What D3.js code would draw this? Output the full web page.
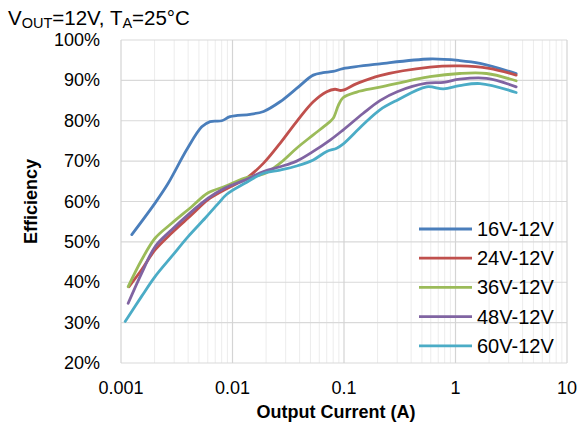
<!DOCTYPE html>
<html>
<head>
<meta charset="utf-8">
<script src="https://cdn.jsdelivr.net/npm/d3@7"></script>
<style>
  body { margin: 0; background: #fff; }
  svg { display: block; font-family: Arial, "Liberation Sans", sans-serif; }
</style>
</head>
<body>
<svg id="chart" width="582" height="428"></svg>
<script>
// data (x in A, y in %)
const seriesNames = [ '16V-12V', '24V-12V', '36V-12V', '48V-12V', '60V-12V' ];
const seriesColors = [ '#4a7ebb', '#c0504d', '#9bbb59', '#8064a2', '#4bacc6' ];

const eff16 = [
    [ 0.00125, 51.8 ], [ 0.00202, 59.6 ], [ 0.00265, 64.5 ], [ 0.00388, 72.8 ], [ 0.0053, 78.5 ],
    [ 0.0063, 79.8 ], [ 0.008, 80.0 ], [ 0.0095, 81.0 ], [ 0.0144, 81.6 ], [ 0.019, 82.3 ],
    [ 0.0267, 84.7 ], [ 0.0376, 88.0 ], [ 0.053, 91.3 ], [ 0.065, 91.9 ], [ 0.08, 92.2 ],
    [ 0.098, 92.9 ], [ 0.21, 94.1 ], [ 0.59, 95.3 ], [ 1.09, 94.9 ], [ 1.66, 94.2 ], [ 3.5, 91.7 ]
];
const eff24 = [
    [ 0.00118, 38.9 ], [ 0.00153, 43.1 ], [ 0.00202, 48.0 ], [ 0.00285, 52.2 ], [ 0.0043, 56.7 ],
    [ 0.006, 60.4 ], [ 0.0085, 62.9 ], [ 0.0134, 65.8 ], [ 0.019, 69.5 ], [ 0.0267, 74.4 ],
    [ 0.0376, 79.8 ], [ 0.053, 84.7 ], [ 0.07, 87.2 ], [ 0.083, 87.8 ], [ 0.095, 87.5 ],
    [ 0.13, 89.2 ], [ 0.21, 91.2 ], [ 0.59, 93.3 ], [ 1.09, 93.6 ], [ 2.0, 93.0 ], [ 3.5, 91.3 ]
];
const eff36 = [
    [ 0.00116, 38.9 ], [ 0.00153, 45.5 ], [ 0.00202, 50.9 ], [ 0.00285, 54.6 ], [ 0.0043, 58.7 ],
    [ 0.006, 62.1 ], [ 0.0085, 63.7 ], [ 0.0129, 65.8 ], [ 0.019, 66.8 ], [ 0.0267, 69.5 ],
    [ 0.0376, 73.2 ], [ 0.053, 76.5 ], [ 0.072, 79.4 ], [ 0.08, 80.6 ], [ 0.089, 83.8 ],
    [ 0.098, 85.7 ], [ 0.13, 87.1 ], [ 0.21, 88.3 ], [ 0.59, 90.9 ], [ 1.09, 91.7 ], [ 1.9, 91.7 ],
    [ 3.5, 89.9 ]
];
const eff48 = [
    [ 0.00116, 34.8 ], [ 0.00153, 42.2 ], [ 0.00202, 48.8 ], [ 0.00285, 53.0 ], [ 0.0043, 57.5 ],
    [ 0.006, 60.8 ], [ 0.0085, 63.3 ], [ 0.0129, 65.3 ], [ 0.019, 67.4 ], [ 0.0267, 68.6 ],
    [ 0.0376, 70.0 ], [ 0.053, 72.4 ], [ 0.075, 75.2 ], [ 0.098, 77.7 ], [ 0.148, 81.8 ],
    [ 0.21, 85.0 ], [ 0.3, 87.2 ], [ 0.55, 89.3 ], [ 0.78, 89.5 ], [ 1.09, 90.3 ], [ 1.9, 90.5 ],
    [ 3.5, 88.4 ]
];
const eff60 = [
    [ 0.00109, 30.3 ], [ 0.00153, 36.5 ], [ 0.00202, 41.4 ], [ 0.00285, 46.4 ], [ 0.004, 51.3 ],
    [ 0.0057, 55.9 ], [ 0.0075, 59.6 ], [ 0.0089, 61.8 ], [ 0.0129, 64.5 ], [ 0.019, 67.0 ],
    [ 0.0267, 67.8 ], [ 0.0376, 68.8 ], [ 0.053, 70.3 ], [ 0.07, 72.4 ], [ 0.086, 73.2 ],
    [ 0.098, 74.2 ], [ 0.148, 79.0 ], [ 0.21, 82.7 ], [ 0.3, 85.1 ], [ 0.55, 88.4 ], [ 0.78, 87.9 ],
    [ 1.09, 88.7 ], [ 1.66, 89.2 ], [ 3.5, 87.0 ]
];
const allSeries = [ eff16, eff24, eff36, eff48, eff60 ];

const xTicks = [ 0.001, 0.01, 0.1, 1, 10 ];
const xTickLabels = [ '0.001', '0.01', '0.1', '1', '10' ];
const yTicks = [ 20, 30, 40, 50, 60, 70, 80, 90, 100 ];

const svg = d3.select( '#chart' );
const margin = { top: 40, right: 15, bottom: 65, left: 121 };
const width = 582 - margin.left - margin.right,
      height = 428 - margin.top - margin.bottom;

const x = d3.scaleLog().domain( [ 0.001, 10 ] ).range( [ 0, width ] );
const y = d3.scaleLinear().domain( [ 20, 100 ] ).range( [ height, 0 ] );

const g = svg.append( 'g' ).attr( 'transform', `translate(${margin.left},${margin.top})` );

// minor vertical grid
const minor = [];
for( let d = 0.001; d < 10; d *= 10 ){
    for( let k = 2; k <= 9; k++ ) minor.push( d * k );
}
g.selectAll( '.minor' ).data( minor ).enter().append( 'line' )
    .attr( 'x1', d => x( d ) ).attr( 'x2', d => x( d ) )
    .attr( 'y1', 0 ).attr( 'y2', height )
    .attr( 'stroke', '#ececec' ).attr( 'stroke-width', 1 );

// horizontal grid
g.selectAll( '.hgrid' ).data( yTicks ).enter().append( 'line' )
    .attr( 'x1', 0 ).attr( 'x2', width )
    .attr( 'y1', d => y( d ) ).attr( 'y2', d => y( d ) )
    .attr( 'stroke', '#d9d9d9' ).attr( 'stroke-width', 1.2 );

// decade grid
g.selectAll( '.vgrid' ).data( xTicks ).enter().append( 'line' )
    .attr( 'x1', d => x( d ) ).attr( 'x2', d => x( d ) )
    .attr( 'y1', 0 ).attr( 'y2', height )
    .attr( 'stroke', '#d4d4d4' ).attr( 'stroke-width', 1.2 );

// axes labels
g.selectAll( '.ylab' ).data( yTicks ).enter().append( 'text' )
    .attr( 'x', -21 ).attr( 'y', d => y( d ) + 6 )
    .attr( 'text-anchor', 'end' ).attr( 'font-size', 18 ).attr( 'fill', '#000' )
    .text( d => d + '%' );

g.selectAll( '.xlab' ).data( xTicks ).enter().append( 'text' )
    .attr( 'x', d => x( d ) ).attr( 'y', height + 31 )
    .attr( 'text-anchor', 'middle' ).attr( 'font-size', 18 ).attr( 'fill', '#000' )
    .text( ( d, i ) => xTickLabels[ i ] );

svg.append( 'text' )
    .attr( 'x', 336 ).attr( 'y', 418 )
    .attr( 'text-anchor', 'middle' ).attr( 'font-size', 18 ).attr( 'font-weight', 'bold' )
    .text( 'Output Current (A)' );

svg.append( 'text' )
    .attr( 'transform', 'translate(37,' + ( margin.top + height / 2 ) + ') rotate(-90)' )
    .attr( 'text-anchor', 'middle' ).attr( 'font-size', 18 ).attr( 'font-weight', 'bold' )
    .text( 'Efficiency' );

// title with subscripts
const title = svg.append( 'text' ).attr( 'x', 8 ).attr( 'y', 25 ).attr( 'font-size', 20.5 );
title.append( 'tspan' ).text( 'V' );
title.append( 'tspan' ).attr( 'font-size', 14.5 ).attr( 'dy', 3 ).text( 'OUT' );
title.append( 'tspan' ).attr( 'dy', -3 ).text( '=12V, T' );
title.append( 'tspan' ).attr( 'font-size', 14.5 ).attr( 'dy', 3 ).text( 'A' );
title.append( 'tspan' ).attr( 'dy', -3 ).text( '=25°C' );

// lines
const line = d3.line()
    .curve( d3.curveCatmullRom.alpha( 0.5 ) )
    .x( d => x( d[ 0 ] ) )
    .y( d => y( d[ 1 ] ) );

allSeries.forEach( ( s, i ) => {
    g.append( 'path' )
        .datum( s )
        .attr( 'fill', 'none' )
        .attr( 'stroke', seriesColors[ i ] )
        .attr( 'stroke-width', 2.8 )
        .attr( 'stroke-linejoin', 'round' )
        .attr( 'stroke-linecap', 'round' )
        .attr( 'd', line );
} );

// legend
const legend = svg.append( 'g' ).attr( 'transform', 'translate(419,229)' );
seriesNames.forEach( ( name, i ) => {
    const row = legend.append( 'g' ).attr( 'transform', `translate(0,${i * 29.2})` );
    row.append( 'line' )
        .attr( 'x1', 0 ).attr( 'x2', 53 ).attr( 'y1', 0 ).attr( 'y2', 0 )
        .attr( 'stroke', seriesColors[ i ] ).attr( 'stroke-width', 2.8 );
    row.append( 'text' )
        .attr( 'x', 58 ).attr( 'y', 7 )
        .attr( 'font-size', 20 ).attr( 'fill', '#000' )
        .text( name );
} );
</script>
</body>
</html>
